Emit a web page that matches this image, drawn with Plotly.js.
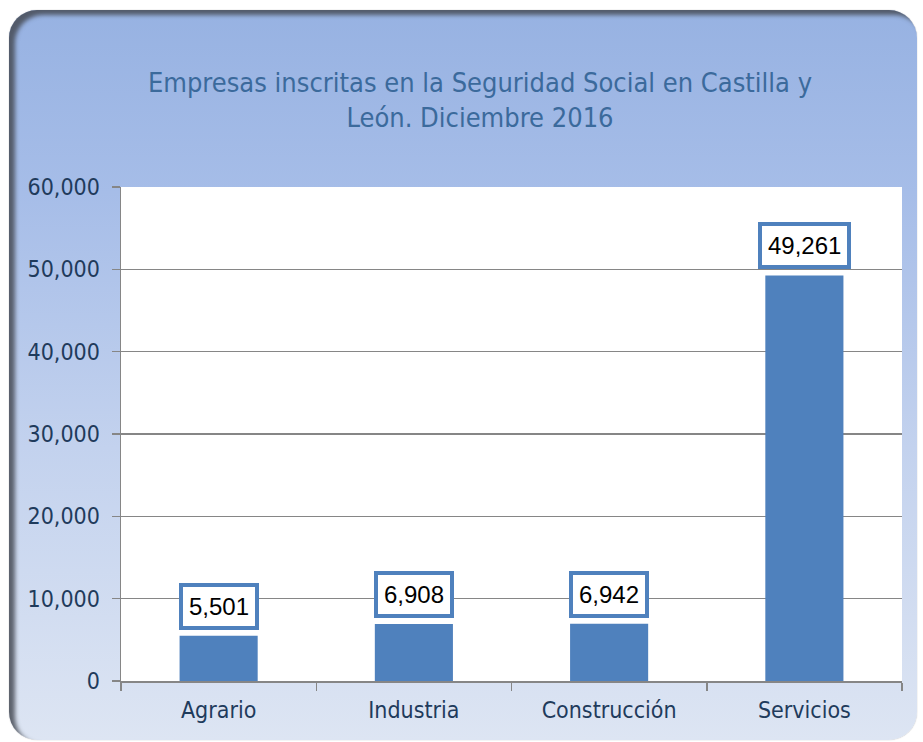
<!DOCTYPE html>
<html>
<head>
<meta charset="utf-8">
<script src="https://cdn.plot.ly/plotly-3.0.1.min.js"></script>
<style>
  html, body { margin: 0; padding: 0; background: #ffffff; }
  #wrap { position: relative; width: 923px; height: 742px; overflow: hidden; }
  #panel {
    position: absolute; left: 9px; top: 10px; width: 908px; height: 730px;
    border-radius: 28px;
    background: linear-gradient(to bottom, #97b2e2 0%, #a6bde8 25%, #c3d2ee 60%, #dde5f3 100%);
    box-shadow: inset 6px 5px 4px rgba(70,75,85,0.85), 0 0 1px rgba(120,120,120,0.8);
  }
  #chart { position: absolute; left: 0; top: 0; width: 923px; height: 742px; }
</style>
</head>
<body>
<div id="wrap">
  <div id="panel"></div>
  <div id="chart"></div>
</div>
<script>
const categories = ["Agrario", "Industria", "Construcción", "Servicios"];
const values = [5501, 6908, 6942, 49261];
const valueLabels = ["5,501", "6,908", "6,942", "49,261"];
const yTickValues = [0, 10000, 20000, 30000, 40000, 50000, 60000];
const yTickLabels = ["0", "10,000", "20,000", "30,000", "40,000", "50,000", "60,000"];
const titleText = "Empresas inscritas en la Seguridad Social en Castilla y<br>León. Diciembre 2016";

const tickFont = { family: "DejaVu Sans Condensed, DejaVu Sans, sans-serif", size: 23, color: "#1f3b5c" };

const trace = {
  type: "bar",
  x: categories,
  y: values,
  marker: { color: "#4f81bd" },
  width: 0.4,
  hoverinfo: "none"
};

const annotations = categories.map((c, i) => ({
  x: c, y: values[i], xref: "x", yref: "y",
  text: valueLabels[i],
  showarrow: false,
  yanchor: "bottom",
  yshift: 6,
  bgcolor: "#ffffff",
  bordercolor: "#4f81bd",
  borderwidth: 4,
  borderpad: 6,
  font: { family: "Liberation Sans, Arial, sans-serif", size: 24, color: "#000000" }
}));

const layout = {
  width: 923, height: 742,
  paper_bgcolor: "rgba(0,0,0,0)",
  plot_bgcolor: "#ffffff",
  margin: { l: 121, r: 21, t: 187, b: 61, pad: 0 },
  showlegend: false,
  title: {
    text: titleText,
    font: { family: "DejaVu Sans Condensed, DejaVu Sans, sans-serif", size: 27, color: "#3b6a9c" },
    x: 480 / 923, xanchor: "center", xref: "container",
    y: 1 - 92 / 742, yanchor: "top", yref: "container"
  },
  xaxis: {
    type: "category",
    tickson: "boundaries",
    ticks: "outside", ticklen: 8, tickcolor: "#868686", tickwidth: 1.5,
    showline: true, linecolor: "#868686", linewidth: 1.5,
    showgrid: false,
    tickfont: tickFont,
    ticklabelstandoff: 8,
    fixedrange: true
  },
  yaxis: {
    range: [0, 60000],
    tickvals: yTickValues,
    ticktext: yTickLabels,
    ticks: "outside", ticklen: 8, tickcolor: "#868686", tickwidth: 1.5,
    showline: true, linecolor: "#868686", linewidth: 1.5,
    showgrid: true, gridcolor: "#868686", gridwidth: 1.5,
    zeroline: false,
    tickfont: tickFont,
    ticklabelstandoff: 7,
    fixedrange: true
  },
  annotations: annotations
};

Plotly.newPlot("chart", [trace], layout, { displayModeBar: false, staticPlot: true });
</script>
</body>
</html>
